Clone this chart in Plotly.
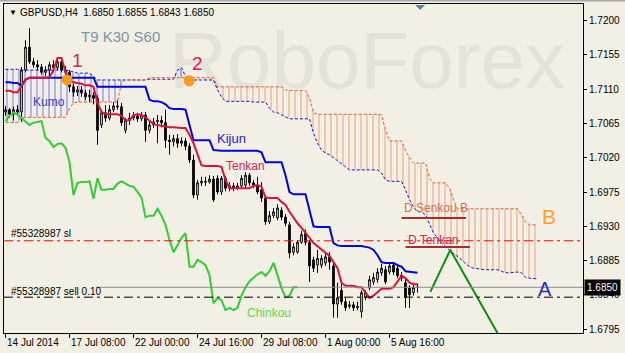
import plotly.graph_objects as go

# ---------------- data ----------------
bar_open = [1.7080, 1.7083, 1.7077, 1.7083, 1.7080, 1.7135, 1.7165, 1.7146, 1.7142, 1.7139,
            1.7132, 1.7135, 1.7142, 1.7138, 1.7146, 1.7135, 1.7132, 1.7113, 1.7106, 1.7109,
            1.7105, 1.7100, 1.7102, 1.7098, 1.7063, 1.7079, 1.7072, 1.7083, 1.7088, 1.7087,
            1.7056, 1.7069, 1.7072, 1.7075, 1.7071, 1.7076, 1.7056, 1.7063, 1.7067, 1.7069,
            1.7066, 1.7043, 1.7041, 1.7045, 1.7039, 1.7042, 1.7035, 1.7017, 1.6971, 1.6987,
            1.6989, 1.6988, 1.6992, 1.6993, 1.6975, 1.6993, 1.6980, 1.6983, 1.6980, 1.6983,
            1.6984, 1.6997, 1.6987, 1.6984, 1.6978, 1.6967, 1.6936, 1.6944, 1.6941, 1.6951,
            1.6942, 1.6932, 1.6896, 1.6896, 1.6909, 1.6921, 1.6909, 1.6886, 1.6879, 1.6879,
            1.6882, 1.6890, 1.6878, 1.6828, 1.6846, 1.6831, 1.6825, 1.6827, 1.6823, 1.6818,
            1.6837, 1.6849, 1.6857, 1.6860, 1.6869, 1.6873, 1.6870, 1.6879, 1.6875, 1.6866,
            1.6856, 1.6849, 1.6843, 1.6850]
bar_high = [1.7088, 1.7085, 1.7087, 1.7089, 1.7139, 1.7174, 1.7190, 1.7151, 1.7148, 1.7143,
            1.7140, 1.7146, 1.7148, 1.7151, 1.7148, 1.7140, 1.7135, 1.7117, 1.7114, 1.7114,
            1.7109, 1.7109, 1.7106, 1.7102, 1.7083, 1.7089, 1.7089, 1.7093, 1.7096, 1.7092,
            1.7072, 1.7079, 1.7080, 1.7079, 1.7080, 1.7080, 1.7069, 1.7072, 1.7076, 1.7075,
            1.7083, 1.7050, 1.7050, 1.7051, 1.7047, 1.7046, 1.7039, 1.7024, 1.6991, 1.6995,
            1.6995, 1.6997, 1.6996, 1.6997, 1.6996, 1.6996, 1.6988, 1.6987, 1.6987, 1.6997,
            1.7001, 1.7000, 1.6991, 1.6995, 1.6988, 1.6971, 1.6950, 1.6954, 1.6959, 1.6955,
            1.6946, 1.6936, 1.6908, 1.6912, 1.6924, 1.6926, 1.6912, 1.6890, 1.6899, 1.6892,
            1.6895, 1.6896, 1.6882, 1.6856, 1.6860, 1.6836, 1.6832, 1.6831, 1.6831, 1.6846,
            1.6846, 1.6865, 1.6869, 1.6875, 1.6881, 1.6878, 1.6883, 1.6883, 1.6879, 1.6870,
            1.6863, 1.6853, 1.6856, 1.6855]
bar_low = [1.7075, 1.7072, 1.7069, 1.7075, 1.7067, 1.7132, 1.7143, 1.7138, 1.7135, 1.7129,
           1.7127, 1.7127, 1.7132, 1.7135, 1.7132, 1.7129, 1.7106, 1.7100, 1.7101, 1.7100,
           1.7096, 1.7093, 1.7090, 1.7037, 1.7059, 1.7067, 1.7069, 1.7080, 1.7083, 1.7062,
           1.7052, 1.7063, 1.7069, 1.7067, 1.7068, 1.7041, 1.7052, 1.7059, 1.7039, 1.7060,
           1.7033, 1.7024, 1.7035, 1.7033, 1.7035, 1.7030, 1.7013, 1.6967, 1.6965, 1.6983,
           1.6983, 1.6986, 1.6962, 1.6972, 1.6971, 1.6976, 1.6976, 1.6976, 1.6978, 1.6980,
           1.6980, 1.6983, 1.6980, 1.6972, 1.6962, 1.6932, 1.6933, 1.6941, 1.6938, 1.6938,
           1.6930, 1.6888, 1.6892, 1.6894, 1.6907, 1.6905, 1.6857, 1.6870, 1.6869, 1.6875,
           1.6878, 1.6873, 1.6810, 1.6810, 1.6827, 1.6819, 1.6822, 1.6819, 1.6820, 1.6810,
           1.6833, 1.6846, 1.6853, 1.6856, 1.6865, 1.6854, 1.6867, 1.6866, 1.6862, 1.6858,
           1.6823, 1.6823, 1.6839, 1.6843]
bar_close = [1.7083, 1.7077, 1.7083, 1.7080, 1.7135, 1.7165, 1.7146, 1.7142, 1.7139, 1.7132,
             1.7135, 1.7142, 1.7138, 1.7146, 1.7135, 1.7132, 1.7113, 1.7106, 1.7109, 1.7105,
             1.7100, 1.7102, 1.7098, 1.7056, 1.7079, 1.7072, 1.7083, 1.7088, 1.7087, 1.7066,
             1.7069, 1.7072, 1.7075, 1.7071, 1.7076, 1.7056, 1.7063, 1.7067, 1.7069, 1.7066,
             1.7043, 1.7041, 1.7045, 1.7039, 1.7042, 1.7035, 1.7017, 1.6971, 1.6987, 1.6989,
             1.6988, 1.6992, 1.6965, 1.6975, 1.6993, 1.6980, 1.6983, 1.6980, 1.6983, 1.6993,
             1.6997, 1.6987, 1.6984, 1.6975, 1.6967, 1.6936, 1.6944, 1.6949, 1.6954, 1.6942,
             1.6934, 1.6895, 1.6903, 1.6909, 1.6919, 1.6909, 1.6878, 1.6875, 1.6888, 1.6888,
             1.6890, 1.6883, 1.6828, 1.6836, 1.6831, 1.6823, 1.6827, 1.6823, 1.6825, 1.6843,
             1.6843, 1.6860, 1.6863, 1.6870, 1.6875, 1.6857, 1.6878, 1.6870, 1.6865, 1.6862,
             1.6837, 1.6840, 1.6850, 1.6850]

tenkan = [1.7108, 1.7108, 1.7106, 1.7106, 1.7114, 1.7123, 1.7125, 1.7125, 1.7125, 1.7125,
          1.7125, 1.7126, 1.7135, 1.7151, 1.7151, 1.7132, 1.7122, 1.7119, 1.7118, 1.7117,
          1.7115, 1.7115, 1.7113, 1.7092, 1.7080, 1.7077, 1.7077, 1.7077, 1.7077, 1.7075,
          1.7069, 1.7069, 1.7076, 1.7077, 1.7076, 1.7073, 1.7068, 1.7064, 1.7063, 1.7062,
          1.7060, 1.7060, 1.7060, 1.7059, 1.7059, 1.7059, 1.7050, 1.7039, 1.7024, 1.7010,
          1.7009, 1.7009, 1.7009, 1.7009, 1.7008, 1.6991, 1.6980, 1.6980, 1.6980, 1.6980,
          1.6980, 1.6980, 1.6983, 1.6984, 1.6982, 1.6968, 1.6967, 1.6967, 1.6967, 1.6962,
          1.6958, 1.6949, 1.6941, 1.6934, 1.6928, 1.6922, 1.6915, 1.6908, 1.6904, 1.6900,
          1.6896, 1.6891, 1.6883, 1.6875, 1.6856, 1.6852, 1.6852, 1.6852, 1.6850, 1.6850,
          1.6843, 1.6836, 1.6839, 1.6844, 1.6848, 1.6848, 1.6848, 1.6850, 1.6858, 1.6865,
          1.6862, 1.6856, 1.6854, 1.6854]
kijun = [1.7119, 1.7119, 1.7118, 1.7118, 1.7114, 1.7122, 1.7125, 1.7125, 1.7125, 1.7125,
         1.7125, 1.7125, 1.7125, 1.7125, 1.7125, 1.7125, 1.7125, 1.7125, 1.7125, 1.7125,
         1.7125, 1.7125, 1.7125, 1.7113, 1.7113, 1.7113, 1.7113, 1.7113, 1.7113, 1.7113,
         1.7113, 1.7113, 1.7113, 1.7113, 1.7113, 1.7113, 1.7096, 1.7094, 1.7094, 1.7093,
         1.7090, 1.7085, 1.7084, 1.7084, 1.7084, 1.7083, 1.7063, 1.7043, 1.7043, 1.7043,
         1.7043, 1.7043, 1.7030, 1.7029, 1.7029, 1.7029, 1.7029, 1.7029, 1.7029, 1.7029,
         1.7029, 1.7029, 1.7029, 1.7029, 1.7027, 1.7014, 1.7014, 1.7014, 1.7014, 1.7014,
         1.6997, 1.6975, 1.6972, 1.6972, 1.6972, 1.6972, 1.6951, 1.6930, 1.6929, 1.6929,
         1.6929, 1.6929, 1.6908, 1.6905, 1.6904, 1.6904, 1.6904, 1.6904, 1.6904, 1.6904,
         1.6903, 1.6902, 1.6899, 1.6892, 1.6883, 1.6882, 1.6882, 1.6882, 1.6879, 1.6877,
         1.6871, 1.6870, 1.6869, 1.6869]
chinkou = [1.7068, 1.7075, 1.7079, 1.7077, 1.7072, 1.7067, 1.7063, 1.7066, 1.7067, 1.7068,
           1.7046, 1.7042, 1.7034, 1.7038, 1.7039, 1.7033, 1.7014, 1.6971, 1.6987, 1.6988,
           1.6988, 1.6989, 1.6966, 1.6993, 1.6978, 1.6978, 1.6979, 1.6979, 1.6986, 1.6989,
           1.6986, 1.6983, 1.6982, 1.6975, 1.6968, 1.6942, 1.6944, 1.6944, 1.6953, 1.6944,
           1.6932, 1.6912, 1.6896, 1.6905, 1.6915, 1.6921, 1.6877, 1.6877, 1.6886, 1.6883,
           1.6879, 1.6866, 1.6829, 1.6836, 1.6833, 1.6820, 1.6823, 1.6820, 1.6823, 1.6839,
           1.6850, 1.6858, 1.6863, 1.6867, 1.6870, 1.6865, 1.6871, 1.6882, 1.6866, 1.6849,
           1.6837, 1.6839, 1.6850, 1.6850]
senkou_a = [1.7066, 1.7066, 1.7066, 1.7066, 1.7073, 1.7073, 1.7073, 1.7073, 1.7073, 1.7073,
            1.7073, 1.7073, 1.7073, 1.7073, 1.7073, 1.7073, 1.7085, 1.7092, 1.7093, 1.7093,
            1.7093, 1.7093, 1.7093, 1.7093, 1.7093, 1.7093, 1.7093, 1.7093, 1.7093, 1.7119,
            1.7122, 1.7122, 1.7122, 1.7122, 1.7122, 1.7122, 1.7125, 1.7125, 1.7125, 1.7125,
            1.7125, 1.7125, 1.7125, 1.7125, 1.7125, 1.7125, 1.7125, 1.7125, 1.7125, 1.7125,
            1.7125, 1.7125, 1.7125, 1.7113, 1.7113, 1.7113, 1.7113, 1.7113, 1.7113, 1.7113,
            1.7113, 1.7113, 1.7113, 1.7113, 1.7113, 1.7113, 1.7113, 1.7113, 1.7113, 1.7113,
            1.7109, 1.7108, 1.7108, 1.7108, 1.7108, 1.7108, 1.7098, 1.7079, 1.7077, 1.7077,
            1.7077, 1.7077, 1.7077, 1.7077, 1.7077, 1.7077, 1.7077, 1.7077, 1.7077, 1.7077,
            1.7077, 1.7077, 1.7077, 1.7077, 1.7076, 1.7056, 1.7042, 1.7042, 1.7042, 1.7042,
            1.7030, 1.7020, 1.7013, 1.7013, 1.7013, 1.7013, 1.6993, 1.6987, 1.6987, 1.6987,
            1.6987, 1.6980, 1.6965, 1.6953, 1.6953, 1.6953, 1.6953, 1.6953, 1.6953, 1.6953,
            1.6953, 1.6953, 1.6953, 1.6953, 1.6953, 1.6953, 1.6953, 1.6953, 1.6953, 1.6945,
            1.6936, 1.6932, 1.6932, 1.6932]
senkou_b = [1.7136, 1.7136, 1.7136, 1.7136, 1.7135, 1.7135, 1.7135, 1.7135, 1.7135, 1.7135,
            1.7135, 1.7135, 1.7135, 1.7135, 1.7135, 1.7135, 1.7134, 1.7132, 1.7131, 1.7131,
            1.7131, 1.7131, 1.7127, 1.7122, 1.7122, 1.7122, 1.7122, 1.7122, 1.7122, 1.7122,
            1.7122, 1.7122, 1.7122, 1.7122, 1.7122, 1.7122, 1.7123, 1.7123, 1.7123, 1.7123,
            1.7123, 1.7123, 1.7123, 1.7135, 1.7138, 1.7127, 1.7122, 1.7122, 1.7122, 1.7122,
            1.7122, 1.7122, 1.7122, 1.7109, 1.7100, 1.7094, 1.7094, 1.7094, 1.7094, 1.7094,
            1.7094, 1.7094, 1.7093, 1.7093, 1.7093, 1.7093, 1.7085, 1.7080, 1.7079, 1.7076,
            1.7073, 1.7071, 1.7071, 1.7071, 1.7071, 1.7071, 1.7071, 1.7052, 1.7039, 1.7030,
            1.7026, 1.7024, 1.7020, 1.7017, 1.7013, 1.7009, 1.7004, 1.7004, 1.7004, 1.7004,
            1.7004, 1.7004, 1.7004, 1.7004, 1.7000, 1.6991, 1.6989, 1.6989, 1.6989, 1.6989,
            1.6978, 1.6965, 1.6955, 1.6949, 1.6949, 1.6945, 1.6933, 1.6921, 1.6915, 1.6908,
            1.6903, 1.6899, 1.6895, 1.6890, 1.6886, 1.6881, 1.6877, 1.6875, 1.6874, 1.6873,
            1.6873, 1.6873, 1.6873, 1.6873, 1.6871, 1.6869, 1.6869, 1.6870, 1.6870, 1.6869,
            1.6863, 1.6862, 1.6861, 1.6861]

tick_bars = [0, 16, 32, 48, 64, 80, 96]
tick_labels = ["14 Jul 2014", "17 Jul 08:00", "22 Jul 00:00", "24 Jul 16:00",
               "29 Jul 08:00", "1 Aug 00:00", "5 Aug 16:00"]
price_ticks = [1.7200, 1.7155, 1.7110, 1.7065, 1.7020, 1.6975, 1.6930, 1.6885, 1.6840, 1.6795]

sl_price = 1.6911
sell_price = 1.6837
bid_price = 1.6850
d_senkou_b_price = 1.6941
d_senkou_b_bars = [99, 115.1]
d_tenkan_price = 1.6903
d_tenkan_bars = [100, 116.1]
proj_bars = [106.2, 111.2, 123.0]
proj_prices = [1.6844, 1.6899, 1.6790]
cross_bars = [15.4, 45.9]
cross_prices = [1.7122, 1.7121]

# ---------------- layout helpers ----------------
BG = "#F2F0E4"
FONT = "Liberation Sans, Arial, sans-serif"
W, H = 625, 353
ML, MR, MT, MB = 4, 42, 4, 20
PW, PH = W - ML - MR, H - MT - MB
X0 = -0.375
X1 = X0 + PW / 4.0
Y_TOP = 1.72217
Y_BOT = 1.67900


def px_x(px):
    return (px - ML) / PW


def px_y(py):
    return 1 - (py - MT) / PH


fig = go.Figure()

# watermark (drawn first, behind everything)
fig.add_trace(go.Scatter(x=[90.4], y=[1.7138], mode="text", text=["RoboForex"],
                         textfont=dict(family=FONT, size=80, color="#E3E3DA"),
                         hoverinfo="skip"))

# cloud: hatched fill between the two spans, coloured by which span is on top
n_span = len(senkou_a)
sign = [1 if a > b else (-1 if b > a else 0) for a, b in zip(senkou_a, senkou_b)]
runs = []
i = 0
while i < n_span:
    if sign[i] == 0:
        i += 1
        continue
    j = i
    while j + 1 < n_span and sign[j + 1] == sign[i]:
        j += 1
    runs.append((i, j, sign[i]))
    i = j + 1
for s, e, sg in runs:
    idx = list(range(max(s - 1, 0), min(e + 1, n_span - 1) + 1))
    xs = idx + idx[::-1]
    ys = [senkou_a[k] for k in idx] + [senkou_b[k] for k in idx[::-1]]
    col = "#F0602C" if sg > 0 else "#1E1ED2"
    fig.add_trace(go.Scatter(
        x=xs, y=ys, mode="lines", fill="toself", line=dict(width=0),
        fillcolor="rgba(0,0,0,0)",
        fillpattern=dict(shape="|", fgcolor=col, fgopacity=0.55, size=6, solidity=0.17,
                         fillmode="replace"),
        hoverinfo="skip"))

span_x = list(range(n_span))
fig.add_trace(go.Scatter(x=span_x, y=senkou_b, mode="lines", hoverinfo="skip",
                         line=dict(color="#1414E6", width=1, dash="3px,2px")))
fig.add_trace(go.Scatter(x=span_x, y=senkou_a, mode="lines", hoverinfo="skip",
                         line=dict(color="#F25A28", width=1, dash="3px,2px")))

bars = list(range(len(bar_open)))
fig.add_trace(go.Candlestick(
    x=bars, open=bar_open, high=bar_high, low=bar_low, close=bar_close,
    increasing=dict(line=dict(color="black", width=1), fillcolor="white"),
    decreasing=dict(line=dict(color="black", width=1), fillcolor="black"),
    whiskerwidth=0, hoverinfo="skip"))

fig.add_trace(go.Scatter(x=list(range(len(chinkou))), y=chinkou, mode="lines",
                         line=dict(color="#33CC33", width=2), hoverinfo="skip"))
fig.add_trace(go.Scatter(x=bars, y=kijun, mode="lines",
                         line=dict(color="#0000E0", width=2), hoverinfo="skip"))
fig.add_trace(go.Scatter(x=bars, y=tenkan, mode="lines",
                         line=dict(color="#DC143C", width=2), hoverinfo="skip"))

# D lines
fig.add_trace(go.Scatter(x=d_senkou_b_bars, y=[d_senkou_b_price] * 2, mode="lines",
                         line=dict(color="#A33030", width=2), hoverinfo="skip"))
fig.add_trace(go.Scatter(x=d_tenkan_bars, y=[d_tenkan_price] * 2, mode="lines",
                         line=dict(color="#A33030", width=2), hoverinfo="skip"))
# projection
fig.add_trace(go.Scatter(x=proj_bars, y=proj_prices, mode="lines",
                         line=dict(color="#0E8E0E", width=2), hoverinfo="skip"))
# cross dots
fig.add_trace(go.Scatter(x=cross_bars, y=cross_prices, mode="markers",
                         marker=dict(color="#FF9A1E", size=11, line=dict(width=0)),
                         hoverinfo="skip"))

shapes = [
    dict(type="line", xref="paper", yref="y", x0=0, x1=1, y0=sl_price, y1=sl_price,
         line=dict(color="#FF0000", width=1, dash="9px,4px,3px,4px")),
    dict(type="line", xref="paper", yref="y", x0=0, x1=1, y0=sell_price, y1=sell_price,
         line=dict(color="#000000", width=1, dash="9px,4px,3px,4px")),
    dict(type="line", xref="x", yref="y", x0=22.6, x1=X1, y0=bid_price, y1=bid_price,
         line=dict(color="#8C8C8C", width=1)),
    dict(type="path", xref="x", yref="paper",
         path=f"M 102.4 {px_y(5)} L 104.9 {px_y(5)} L 103.65 {px_y(10)} Z",
         fillcolor="#6F7F8F", line=dict(width=0)),
    dict(type="rect", xref="paper", yref="paper", x0=px_x(0), x1=px_x(W),
         y0=px_y(0), y1=px_y(1.5), fillcolor="#A8A8A8", line=dict(width=0)),
]

anns = []


def txt(x, y, s, size, color, xref="x", yref="y", xanchor="center", yanchor="middle", **kw):
    anns.append(dict(x=x, y=y, xref=xref, yref=yref, text=s, showarrow=False,
                     xanchor=xanchor, yanchor=yanchor, borderpad=0,
                     font=dict(family=FONT, size=size, color=color), **kw))


txt(px_x(8), px_y(12.5), "▼", 8, "#000000", xref="paper", yref="paper", xanchor="left")
txt(px_x(19), px_y(12.5), "GBPUSD,H4  1.6850 1.6855 1.6843 1.6850", 10, "#000000",
    xref="paper", yref="paper", xanchor="left")
txt(px_x(80), px_y(37), "T9 K30 S60", 15, "#7F93A8", xref="paper", yref="paper", xanchor="left")
txt(17.9, 1.7148, "1", 19, "#DC2050")
txt(47.9, 1.7144, "2", 19, "#DC2050")
txt(10.9, 1.7093, "Kumo", 12, "#3C3CDC")
txt(56.6, 1.7045, "Kijun", 13, "#2222CC")
txt(59.9, 1.7009, "Tenkan", 12, "#E0245E")
txt(65.9, 1.6816, "Chinkou", 12, "#5FD84A")
txt(107.6, 1.6954, "D Senkou B", 12, "#D9704F")
txt(106.9, 1.6912, "D Tenkan", 12, "#C8284A")
txt(135.9, 1.6943, "B", 21, "#FFA030")
txt(134.9, 1.6848, "A", 20, "#2A2ACF")
txt(1.1, 1.6920, "#55328987 sl", 10, "#000000", xanchor="left")
txt(1.1, 1.6845, "#55328987 sell 0.10", 10, "#000000", xanchor="left")
for tb, tl in zip(tick_bars, tick_labels):
    txt(tb, 0, tl, 10, "#000000", yref="paper", xanchor="left", yanchor="top", yshift=-3)
anns.append(dict(x=1, y=bid_price, xref="paper", yref="y", text="1.6850", showarrow=False,
                 xanchor="left", yanchor="middle", xshift=1, bgcolor="#000000", borderpad=2,
                 font=dict(family=FONT, size=10, color="#FFFFFF")))

fig.update_layout(
    width=W, height=H, margin=dict(l=ML, r=MR, t=MT, b=MB),
    paper_bgcolor=BG, plot_bgcolor=BG, showlegend=False,
    font=dict(family=FONT, size=10, color="#000000"),
    boxgap=0.4, boxgroupgap=0.3,
    shapes=shapes, annotations=anns,
    xaxis=dict(range=[X0, X1], showgrid=False, zeroline=False, showline=True, mirror=True,
               linecolor="#000000", linewidth=1, ticks="outside", ticklen=4,
               tickcolor="#000000", tickvals=tick_bars, showticklabels=False,
               rangeslider=dict(visible=False), fixedrange=True),
    yaxis=dict(range=[Y_BOT, Y_TOP], side="right", showgrid=False, zeroline=False,
               showline=True, mirror=True, linecolor="#000000", linewidth=1,
               ticks="outside", ticklen=3, tickcolor="#000000", tickvals=price_ticks,
               ticktext=[f"{v:.4f}" for v in price_ticks],
               tickfont=dict(family=FONT, size=10, color="#000000"), fixedrange=True),
)

fig.write_html("out.html")
